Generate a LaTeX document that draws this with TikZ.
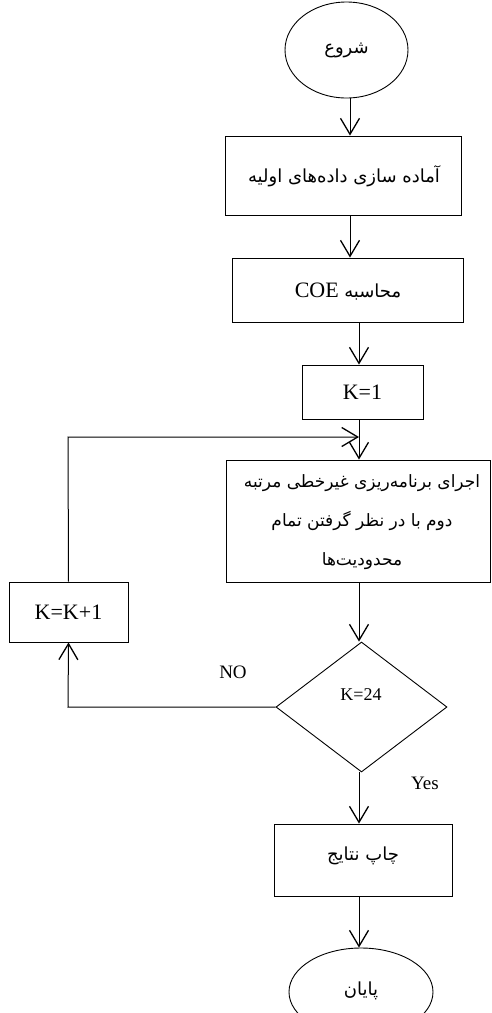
\documentclass[tikz,border=0pt]{standalone}
\usepackage{fontspec}
\setmainfont{Liberation Serif}
\newfontfamily\fa[Script=Arabic]{DejaVu Sans}
\TeXXeTstate=1
\usetikzlibrary{arrows.meta,shapes.geometric}
\tikzset{
  box/.style={draw,line width=0.9pt,inner sep=0pt,font=\fontsize{22}{26}\selectfont},
  oval/.style={draw,ellipse,line width=0.9pt,inner sep=0pt},
  arr/.style={line width=1pt,-{Straight Barb[length=16pt,width=19pt,line width=1.3pt]}},
  fatxt/.style={font=\fa\fontsize{18}{22}\selectfont},
  lbl/.style={font=\fontsize{19}{22}\selectfont}
}
\begin{document}
\begin{tikzpicture}[x=1pt,y=-1pt]
\useasboundingbox (0,0) rectangle (492,1013);
\clip (0,0) rectangle (492,1013);
% nodes
\node[oval,minimum width=123pt,minimum height=96pt] (start) at (346.5,50) {};
\node[fatxt] (starttxt) at (346.5,50) {\beginR شروع\endR};
\node[box,minimum width=236pt,minimum height=79pt] (b1) at (343,175.5) {};
\node[fatxt] (b1txt) at (344,176) {\beginR آماده سازی داده‌های اولیه\endR};
\node[box,minimum width=231pt,minimum height=64pt] (b2) at (347.5,290) {};
\node[font=\fontsize{22}{26}\selectfont] (b2txt) at (348,292) {\beginR{\fa\fontsize{18}{22}\selectfont محاسبه} \beginL COE\endL\endR};
\node[box,minimum width=121pt,minimum height=54pt] (b3) at (362.5,392) {K=1};
\node[box,minimum width=264pt,minimum height=122pt] (b4) at (358,521) {};
\node[align=center,font=\fa\fontsize{17}{39}\selectfont] (b4txt) at (362,522)
  {\beginR اجرای برنامه‌ریزی غیرخطی مرتبه\endR\\ \beginR دوم با در نظر گرفتن تمام\endR\\ \beginR محدودیت‌ها\endR};
\node[box,minimum width=119pt,minimum height=60pt] (kk) at (68.5,612) {K=K+1};
\node[draw,diamond,line width=0.9pt,inner sep=0pt,minimum width=171pt,minimum height=130pt] (dia) at (361.5,707) {};
\node[font=\fontsize{18}{22}\selectfont] (diatxt) at (361,695) {K=24};
\node[lbl] (no) at (233,672) {NO};
\node[lbl] (yes) at (425,783) {Yes};
\node[box,minimum width=178pt,minimum height=72pt] (b5) at (363,860) {};
\node[fatxt] (b5txt) at (363,856) {\beginR چاپ نتایج\endR};
\node[oval,minimum width=144pt,minimum height=88pt] (end) at (361,992) {};
\node[fatxt] (endtxt) at (361,991) {\beginR پایان\endR};
\coordinate (join) at (359,437);
\coordinate (lt) at (68,437);
\coordinate (lb) at (68,707);
% connectors
\draw[arr] ([xshift=3.5pt]start.south) -- ([xshift=7pt]b1.north);
\draw[arr] ([xshift=7pt]b1.south) -- ([xshift=2.5pt]b2.north);
\draw[arr] ([xshift=11.5pt]b2.south) -- ([xshift=-3.5pt]b3.north);
\draw[arr] ([xshift=-3.5pt]b3.south) -- ([xshift=1pt]b4.north);
\draw[arr] ([xshift=1pt]b4.south) -- ([xshift=-2.5pt]dia.north);
\draw[arr] ([xshift=-2.5pt]dia.south) -- ([xshift=-4pt]b5.north);
\draw[arr] ([xshift=-4pt]b5.south) -- ([xshift=-2pt]end.north);
\draw[arr] (dia.west) -- (lb) -- (kk.south);
\draw[arr] (kk.north) -- (lt) -- (join);
\end{tikzpicture}
\end{document}
